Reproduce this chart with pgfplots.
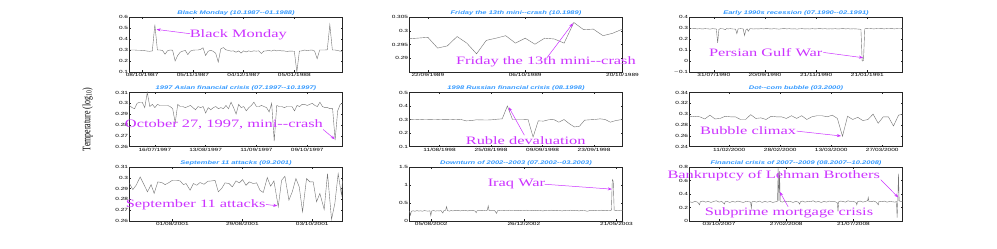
\documentclass[border=0pt]{standalone}
\usepackage{fontspec}
\setmainfont{Liberation Serif}
\newfontfamily\tickf[FakeStretch=1.45]{Liberation Sans}
\newfontfamily\annf[FakeStretch=1.45]{Liberation Serif}
\usepackage{graphicx}
\usepackage{pgfplots}
\pgfplotsset{compat=1.18}
\usetikzlibrary{arrows.meta}
\definecolor{ttl}{RGB}{51,153,255}
\definecolor{ann}{RGB}{204,51,255}
\definecolor{ln}{RGB}{115,115,115}
\tikzset{
 note/.style={ann, font=\annf\fontsize{11.3}{12}\selectfont, inner sep=0pt},
 arr/.style={ann, line width=0.5pt, -{Stealth[length=4pt,width=3pt]}},
}
\pgfplotsset{
 pan/.style={
  scale only axis, width=213pt, height=54pt, anchor=south west,
  clip=false, axis line style={line width=0.45pt, black!85},
  major tick length=1.8pt, every tick/.style={black!85, line width=0.4pt},
  tick label style={font=\tickf\fontsize{4.5}{5}\selectfont, inner sep=1.2pt},
  title style={font=\tickf\bfseries\itshape\fontsize{5.2}{6}\selectfont, text=ttl, inner sep=1pt, yshift=-5.5pt},
  cycle list={{ln, line width=0.9pt, mark=none}},
 },
}
\begin{document}
\begin{tikzpicture}
\fill[white] (0pt,0pt) rectangle (997pt,-249pt);
\useasboundingbox (0pt,0pt) rectangle (997pt,-249pt);

% ---------- Row 1 ----------
\begin{axis}[pan, at={(129.5pt,-72pt)}, height=55pt,
  title={Black Monday (10.1987--01.1988)},
  xmin=0, xmax=84, ymin=0.1, ymax=0.6,
  xtick={5,25,45,65}, xticklabels={08/10/1987,05/11/1987,04/12/1987,05/01/1988},
  ytick={0.1,0.2,0.3,0.4,0.5,0.6}, yticklabels={0.1,0.2,0.3,0.4,0.5,0.6}]
\addplot coordinates {(0,0.300)(1,0.300)(2,0.300)(3,0.298)(4,0.298)(5,0.296)(6,0.294)(7,0.290)(8,0.288)(9,0.292)(10,0.530)(11,0.300)(12,0.300)(13,0.296)(14,0.262)(15,0.293)(16,0.300)(17,0.298)(18,0.200)(19,0.250)(20,0.280)(21,0.290)(22,0.296)(23,0.258)(24,0.290)(25,0.298)(26,0.300)(27,0.300)(28,0.305)(29,0.320)(30,0.250)(31,0.288)(32,0.298)(33,0.288)(34,0.270)(35,0.190)(36,0.310)(37,0.322)(38,0.302)(39,0.296)(40,0.290)(41,0.292)(42,0.280)(43,0.292)(44,0.272)(45,0.292)(46,0.282)(47,0.292)(48,0.286)(49,0.292)(50,0.290)(51,0.292)(52,0.268)(53,0.290)(54,0.292)(55,0.296)(56,0.290)(57,0.300)(58,0.292)(59,0.296)(60,0.292)(61,0.292)(62,0.286)(63,0.290)(64,0.290)(65,0.288)(66,0.100)(67,0.290)(68,0.292)(69,0.300)(70,0.295)(71,0.298)(72,0.300)(73,0.290)(74,0.220)(75,0.300)(76,0.300)(77,0.300)(78,0.302)(79,0.530)(80,0.300)(81,0.300)(82,0.296)(83,0.290)(84,0.288)};
\draw[arr] (axis cs:23.9,0.448) -- (axis cs:10.7,0.487);
\node[note] at (axis cs:42.9,0.438) {Black Monday};
\end{axis}

\begin{axis}[pan, at={(409.5pt,-72pt)}, height=55pt,
  title={Friday the 13th mini--crash (10.1989)},
  xmin=-0.89, xmax=21, ymin=0.285, ymax=0.305,
  xtick={1,11,21}, xticklabels={22/09/1989,06/10/1989,20/10/1989},
  ytick={0.29,0.295,0.3,0.305}, yticklabels={0.29,0.295,0.3,0.305}]
\addplot coordinates {(-0.89,0.2971)(1,0.2976)(2,0.2937)(3,0.2945)(4,0.2979)(5,0.2955)(6,0.2916)(7,0.2965)(8,0.2973)(9,0.2982)(10,0.2955)(11,0.2973)(12,0.2951)(13,0.2973)(14,0.2970)(15,0.2955)(16,0.3030)(17,0.3004)(18,0.3006)(19,0.2982)(20,0.2991)(21,0.3006)};
\draw[arr] (axis cs:13.2,0.2900) -- (axis cs:15.9,0.3027);
\node[note] at (axis cs:13.13,0.2887) {Friday the 13th mini--crash};
\end{axis}

\begin{axis}[pan, at={(689.5pt,-72pt)}, height=55pt,
  title={Early 1990s recession (07.1990--02.1991)},
  xmin=0, xmax=166.5, ymin=-0.1, ymax=0.4,
  xtick={19,59,99,139}, xticklabels={31/07/1990,20/09/1990,21/11/1990,21/01/1991},
  ytick={-0.1,0,0.1,0.2,0.3,0.4}, yticklabels={$-$0.1,0,0.1,0.2,0.3,0.4}]
\addplot coordinates {(0,0.294)(2,0.293)(4,0.295)(6,0.292)(8,0.294)(10,0.291)(12,0.294)(14,0.293)(16,0.290)(18,0.294)(20,0.292)(21,0.290)(22,0.165)(23,0.288)(24,0.294)(26,0.293)(28,0.285)(29,0.295)(30,0.292)(32,0.294)(34,0.291)(36,0.290)(37,0.248)(38,0.292)(40,0.294)(42,0.292)(43,0.232)(44,0.280)(45,0.293)(46,0.270)(47,0.292)(48,0.294)(50,0.291)(52,0.293)(54,0.292)(56,0.294)(58,0.292)(60,0.295)(62,0.293)(64,0.291)(66,0.294)(68,0.292)(70,0.290)(72,0.293)(74,0.295)(76,0.292)(78,0.294)(80,0.291)(82,0.293)(84,0.290)(86,0.293)(88,0.294)(90,0.292)(92,0.293)(94,0.291)(96,0.294)(98,0.292)(100,0.293)(102,0.295)(104,0.292)(106,0.294)(108,0.291)(110,0.293)(112,0.292)(114,0.294)(116,0.291)(118,0.293)(120,0.295)(122,0.292)(124,0.294)(126,0.291)(128,0.293)(130,0.292)(132,0.290)(134,0.288)(135,0.000)(136,0.004)(137,0.292)(138,0.295)(140,0.293)(142,0.294)(144,0.292)(146,0.294)(148,0.293)(150,0.295)(152,0.292)(154,0.294)(156,0.293)(158,0.295)(160,0.292)(162,0.294)(164,0.293)(166.5,0.294)};
\draw[arr] (axis cs:104.6,0.078) -- (axis cs:135.6,0.030);
\node[note] at (axis cs:59.6,0.078) {Persian Gulf War};
\end{axis}

% ---------- Row 2 ----------
\begin{axis}[pan, at={(129.5pt,-146.5pt)},
  title={1997 Asian financial crisis (07.1997--10.1997)},
  xmin=0, xmax=83.9, ymin=0.26, ymax=0.31,
  xtick={10,30,50,70}, xticklabels={16/07/1997,13/08/1997,11/09/1997,09/10/1997},
  ytick={0.26,0.27,0.28,0.29,0.3,0.31}, yticklabels={0.26,0.27,0.28,0.29,0.3,0.31},
  ylabel={\scalebox{1}[1.45]{\fontsize{7.9}{9}\selectfont Temperature (log\textsubscript{10})}},
  ylabel style={at={(axis description cs:-0.197,0.5)}, anchor=center, inner sep=0pt}]
\addplot coordinates {(0,0.298)(1,0.296)(2,0.295)(3,0.300)(4,0.301)(5,0.301)(6,0.296)(7,0.310)(8,0.297)(9,0.299)(10,0.296)(11,0.299)(12,0.298)(13,0.298)(14,0.298)(15,0.298)(16,0.297)(17,0.295)(18,0.282)(19,0.299)(20,0.297)(21,0.297)(22,0.296)(23,0.297)(24,0.298)(25,0.296)(26,0.294)(27,0.297)(28,0.296)(29,0.297)(30,0.291)(31,0.296)(32,0.294)(33,0.296)(34,0.297)(35,0.295)(36,0.296)(37,0.295)(38,0.298)(39,0.295)(40,0.301)(41,0.296)(42,0.290)(43,0.299)(44,0.296)(45,0.297)(46,0.293)(47,0.296)(48,0.298)(49,0.301)(50,0.297)(51,0.297)(52,0.298)(53,0.297)(54,0.296)(55,0.292)(56,0.300)(57,0.265)(58,0.298)(59,0.297)(60,0.297)(61,0.296)(62,0.297)(63,0.297)(64,0.297)(65,0.293)(66,0.298)(67,0.297)(68,0.299)(69,0.299)(70,0.298)(71,0.299)(72,0.300)(73,0.298)(74,0.297)(75,0.301)(76,0.297)(77,0.296)(78,0.296)(79,0.295)(80,0.295)(81,0.266)(82,0.293)(83,0.299)(83.9,0.300)};
\draw[arr] (axis cs:76.3,0.2757) -- (axis cs:80.8,0.2668);
\node[note] at (axis cs:37.2,0.2803) {October 27, 1997, mini--crash};
\end{axis}

\begin{axis}[pan, at={(409.5pt,-146.5pt)},
  title={1998 Russian financial crisis (08.1998)},
  xmin=0, xmax=41.36, ymin=0.1, ymax=0.5,
  xtick={5.84,15.84,25.84,35.84}, xticklabels={11/08/1998,25/08/1998,09/09/1998,23/09/1998},
  ytick={0.1,0.2,0.3,0.4,0.5}, yticklabels={0.1,0.2,0.3,0.4,0.5}]
\addplot coordinates {(0,0.300)(1,0.302)(2,0.300)(3,0.298)(4,0.299)(5,0.298)(6,0.300)(7,0.299)(8,0.300)(9,0.298)(10,0.300)(11,0.290)(12,0.292)(13,0.298)(14,0.297)(15,0.296)(16,0.298)(17,0.302)(18,0.305)(19,0.400)(20,0.300)(21,0.300)(22,0.300)(23,0.302)(24,0.170)(25,0.290)(26,0.288)(27,0.298)(28,0.300)(29,0.280)(30,0.300)(31,0.270)(32,0.245)(33,0.250)(34,0.295)(35,0.298)(36,0.300)(37,0.305)(38,0.300)(39,0.280)(40,0.292)(41,0.298)(41.36,0.300)};
\draw[arr] (axis cs:22.3,0.184) -- (axis cs:19.3,0.390);
\node[note] at (axis cs:22.56,0.140) {Ruble devaluation};
\end{axis}

\begin{axis}[pan, at={(689.5pt,-146.5pt)},
  title={Dot--com bubble (03.2000)},
  xmin=0, xmax=41.77, ymin=0.24, ymax=0.34,
  xtick={7.8,17.8,27.8,37.8}, xticklabels={11/02/2000,28/02/2000,13/03/2000,27/03/2000},
  ytick={0.24,0.26,0.28,0.3,0.32,0.34}, yticklabels={0.24,0.26,0.28,0.3,0.32,0.34}]
\addplot coordinates {(0,0.295)(1,0.296)(2,0.295)(3,0.291)(4,0.298)(5,0.291)(6,0.292)(7,0.296)(8,0.295)(9,0.295)(10,0.290)(11,0.290)(12,0.299)(13,0.292)(14,0.293)(15,0.290)(16,0.296)(17,0.295)(18,0.295)(19,0.292)(20,0.297)(21,0.292)(22,0.297)(23,0.290)(24,0.295)(25,0.297)(26,0.297)(27,0.295)(28,0.298)(29,0.292)(30,0.259)(31,0.296)(32,0.290)(33,0.294)(34,0.288)(35,0.290)(36,0.300)(37,0.283)(38,0.295)(39,0.295)(40,0.278)(41,0.298)(41.77,0.300)};
\draw[arr] (axis cs:21,0.2685) -- (axis cs:29.7,0.2595);
\node[note] at (axis cs:11.5,0.2685) {Bubble climax};
\end{axis}

% ---------- Row 3 ----------
\begin{axis}[pan, at={(129.5pt,-221pt)},
  title={September 11 attacks (09.2001)},
  xmin=0, xmax=61.54, ymin=0.26, ymax=0.31,
  xtick={12.4,32.6,52.8}, xticklabels={01/08/2001,29/08/2001,03/10/2001},
  ytick={0.26,0.27,0.28,0.29,0.3,0.31}, yticklabels={0.26,0.27,0.28,0.29,0.3,0.31}]
\addplot coordinates {(0.00,0.2947)(0.96,0.2891)(1.92,0.2931)(3.08,0.3008)(4.04,0.2947)(5.19,0.2870)(6.25,0.2937)(7.12,0.2855)(8.17,0.2962)(9.33,0.2956)(10.29,0.2937)(11.25,0.2953)(12.40,0.2977)(13.65,0.2977)(14.62,0.2971)(15.58,0.2937)(16.35,0.2947)(17.50,0.2885)(18.46,0.2947)(19.42,0.2931)(20.38,0.2956)(21.54,0.2940)(22.60,0.2968)(23.75,0.2971)(24.71,0.2977)(25.67,0.2870)(26.63,0.2901)(27.60,0.2953)(28.75,0.2947)(29.71,0.2916)(30.77,0.2971)(31.73,0.2953)(32.69,0.2983)(33.65,0.2931)(34.62,0.2962)(35.77,0.2947)(36.73,0.2953)(37.69,0.2885)(38.65,0.2864)(39.81,0.3002)(40.77,0.2922)(41.73,0.2971)(42.98,0.2732)(43.94,0.2977)(44.90,0.3014)(46.06,0.2793)(47.02,0.2870)(48.08,0.2993)(49.04,0.2916)(50.00,0.2686)(51.15,0.2993)(52.12,0.2962)(53.08,0.2962)(54.04,0.2778)(55.00,0.2855)(56.25,0.2707)(57.21,0.3039)(58.37,0.2615)(59.33,0.2763)(60.29,0.3039)(61.25,0.2839)(61.54,0.2977)};
\draw[arr] (axis cs:39.4,0.2753) -- (axis cs:42.7,0.2741);
\node[note] at (axis cs:19.1,0.2753) {September 11 attacks};
\end{axis}

\begin{axis}[pan, at={(409.5pt,-221pt)},
  title={Downturn of 2002--2003 (07.2002--03.2003)},
  xmin=0, xmax=230, ymin=0, ymax=1.5,
  xtick={23.5,123.5,223.5}, xticklabels={05/08/2002,26/12/2002,21/05/2003},
  ytick={0,0.5,1,1.5}, yticklabels={0,0.5,1,1.5}]
\addplot coordinates {(0,0.280)(1,0.160)(2,0.270)(4,0.285)(6,0.270)(8,0.290)(10,0.275)(12,0.285)(14,0.270)(16,0.290)(18,0.280)(20,0.275)(22,0.285)(23,0.150)(24,0.280)(26,0.290)(28,0.275)(30,0.285)(32,0.280)(34,0.290)(36,0.220)(37,0.285)(39,0.300)(40,0.400)(41,0.290)(43,0.275)(45,0.290)(47,0.280)(49,0.295)(51,0.285)(53,0.290)(55,0.280)(57,0.295)(59,0.285)(61,0.290)(63,0.280)(65,0.295)(67,0.285)(69,0.290)(71,0.275)(72,0.230)(73,0.285)(75,0.295)(77,0.285)(79,0.290)(81,0.295)(83,0.290)(84,0.300)(85,0.420)(86,0.290)(88,0.295)(90,0.285)(92,0.290)(94,0.210)(95,0.285)(97,0.295)(99,0.290)(102,0.295)(105,0.290)(108,0.300)(111,0.290)(114,0.295)(117,0.285)(120,0.295)(123,0.290)(126,0.300)(129,0.290)(132,0.295)(135,0.285)(138,0.295)(141,0.290)(144,0.280)(147,0.295)(150,0.290)(153,0.300)(156,0.285)(159,0.295)(162,0.290)(165,0.280)(168,0.295)(171,0.290)(174,0.300)(177,0.285)(180,0.295)(183,0.280)(186,0.295)(189,0.290)(192,0.270)(195,0.295)(198,0.285)(201,0.295)(204,0.290)(207,0.300)(210,0.285)(213,0.295)(216,0.290)(218,0.300)(219,1.150)(220,1.100)(221,0.300)(223,0.295)(226,0.290)(228,0.300)(230,0.295)};
\draw[arr] (axis cs:146,1.021) -- (axis cs:218.5,0.885);
\node[note] at (axis cs:115.5,1.021) {Iraq War};
\end{axis}

\begin{axis}[pan, at={(689.5pt,-221pt)},
  title={Financial crisis of 2007--2009 (08.2007--10.2008)},
  xmin=0, xmax=317, ymin=0, ymax=0.8,
  xtick={44,144,244}, xticklabels={03/10/2007,27/02/2008,21/07/2008},
  ytick={0,0.2,0.4,0.6,0.8}, yticklabels={0,0.2,0.4,0.6,0.8}]
\addplot coordinates {(0,0.285)(4,0.275)(8,0.290)(12,0.280)(15,0.240)(16,0.285)(20,0.295)(24,0.280)(28,0.290)(32,0.275)(36,0.290)(40,0.300)(44,0.280)(48,0.290)(52,0.250)(53,0.285)(56,0.290)(60,0.275)(64,0.290)(68,0.280)(72,0.295)(76,0.285)(80,0.275)(84,0.290)(88,0.285)(91,0.280)(92,0.190)(93,0.285)(96,0.290)(100,0.280)(104,0.295)(108,0.275)(112,0.290)(116,0.280)(120,0.290)(124,0.275)(128,0.285)(131,0.290)(132,0.780)(133,0.300)(134,0.740)(135,0.290)(138,0.280)(142,0.295)(146,0.285)(150,0.290)(154,0.275)(158,0.290)(162,0.280)(164,0.250)(165,0.285)(168,0.295)(172,0.280)(176,0.290)(180,0.285)(184,0.300)(188,0.280)(192,0.290)(196,0.275)(200,0.290)(204,0.280)(208,0.295)(212,0.285)(216,0.290)(220,0.270)(221,0.140)(222,0.285)(225,0.295)(228,0.290)(232,0.280)(236,0.300)(240,0.285)(244,0.290)(248,0.275)(249,0.240)(250,0.285)(254,0.295)(258,0.280)(262,0.290)(265,0.300)(266,0.350)(267,0.290)(270,0.285)(274,0.295)(278,0.280)(281,0.240)(282,0.290)(286,0.285)(290,0.295)(294,0.280)(298,0.290)(302,0.285)(306,0.280)(308,0.290)(309,0.050)(310,0.300)(311,0.700)(312,0.300)(314,0.290)(317,0.285)};
\draw[arr] (axis cs:284.6,0.613) -- (axis cs:310.5,0.350);
\node[note] at (axis cs:125.4,0.677) {Bankruptcy of Lehman Brothers};
\draw[arr] (axis cs:146.8,0.211) -- (axis cs:134.5,0.430);
\node[note] at (axis cs:148,0.123) {Subprime mortgage crisis};
\end{axis}
\end{tikzpicture}
\end{document}
